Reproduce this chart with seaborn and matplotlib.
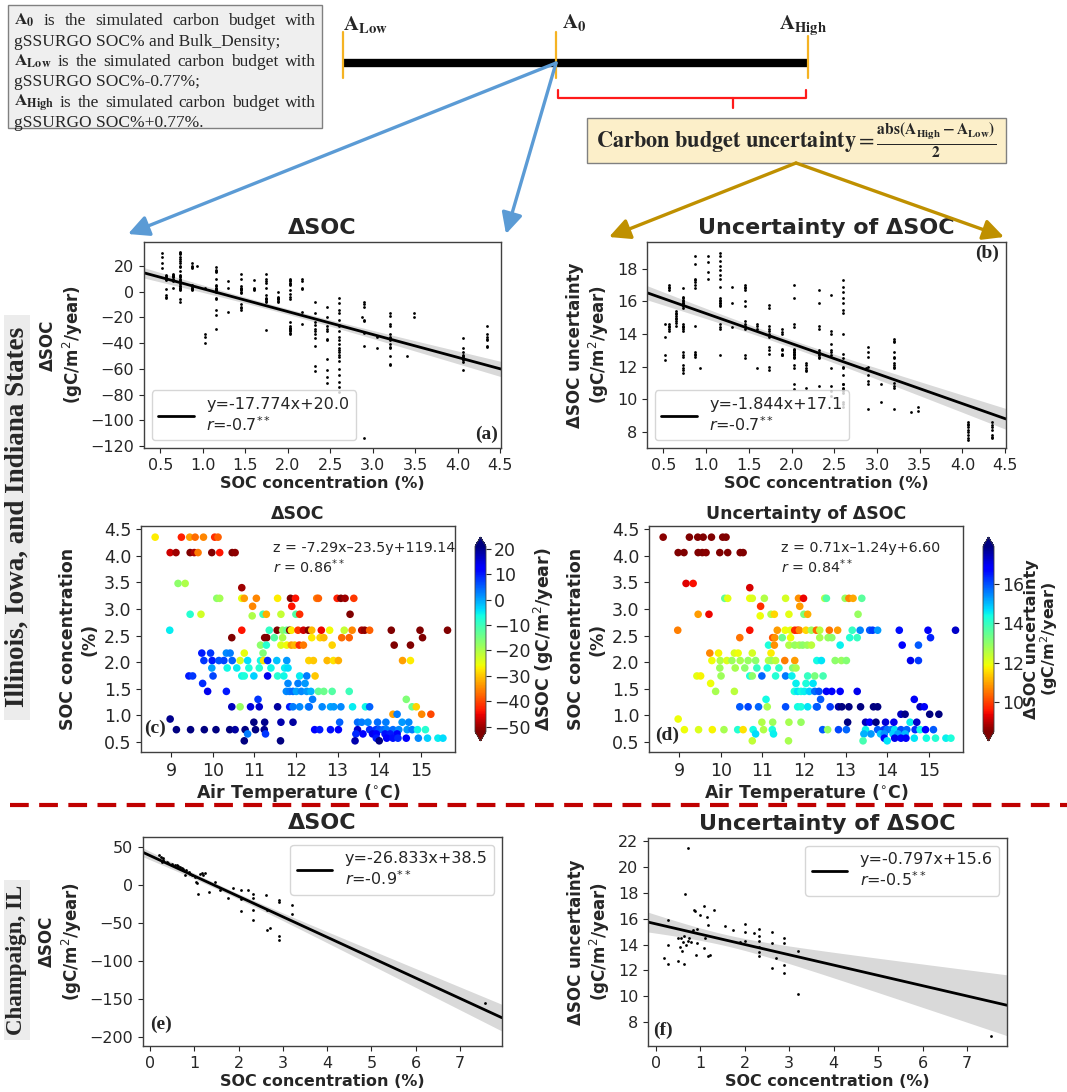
import numpy as np
import pandas as pd
import matplotlib
matplotlib.use("Agg")
import matplotlib.pyplot as plt
import matplotlib.colors as mcolors
import seaborn as sns
from matplotlib.patches import Rectangle
from matplotlib.lines import Line2D

# ---------------- Illinois / Iowa / Indiana sites ----------------
air_temp = [
    8.62, 9.25, 9.45, 9.58, 9.78, 10.05, 10.13,
    8.98, 9.12, 9.46, 9.56, 9.65, 9.98, 10.17, 10.47, 10.54,
    9.17, 9.34,
    10.7,
    10.1, 10.17, 10.7, 10.76, 11.05, 11.56, 11.87, 11.99, 12.5, 12.54, 12.99, 13.08, 13.18, 13.39,
    10.96, 11.9,
    9.46, 9.72, 10.95, 11.21, 11.29, 11.64, 12.0, 12.09, 13.3,
    8.97, 10.7, 11.36, 11.55, 11.68, 11.78, 11.85, 11.89, 12.05, 12.18, 12.3, 12.38, 12.61, 12.81,
    13.16, 13.35, 13.58, 13.65, 13.77, 14.29, 14.98, 15.64,
    10.46, 11.25, 11.3, 11.48, 11.68, 12.38, 12.58, 12.67, 13.1, 13.28, 15.04,
    11.15, 11.29, 11.64, 11.78, 11.89, 11.97, 12.08, 12.18, 12.87, 14.36, 14.75,
    9.74, 9.95, 10.33, 10.42, 10.76, 11.21,
    9.79, 9.99, 10.15, 10.27, 10.47, 10.66, 10.84, 11.15, 11.22, 11.32, 11.54, 11.78, 12.31, 12.42,
    12.75, 12.9, 13.02, 14.56, 14.75,
    9.98, 10.35, 10.58, 10.87, 11.12, 11.4, 11.73, 11.81,
    9.43, 9.52, 10.01, 10.7, 10.76, 10.99, 11.32, 11.56, 11.71, 12.09, 12.26, 12.46,
    9.76, 11.81, 12.05, 12.22,
    9.88, 10.33, 11.77, 11.85, 11.93, 12.01, 12.13, 12.26, 12.36, 12.54, 12.67, 12.87, 13.28,
    11.09, 12.4, 14.65,
    10.46, 10.66, 10.91, 11.12, 11.56, 11.85, 11.93, 12.09, 12.3, 12.32, 12.63, 12.83, 12.91, 13.08,
    13.36, 13.67, 13.77, 14.79, 14.89,
    14.33, 14.43, 15.02, 15.24,
    8.98,
    10.99, 11.25, 11.64, 11.93, 13.05, 13.48, 13.58, 13.73, 13.96, 14.16, 14.55, 14.71,
    9.13, 9.47, 9.8, 10.08, 10.41, 10.54, 10.78, 11.03, 11.24, 12.45, 12.57, 12.83, 13.02, 13.48,
    13.77, 13.92, 14.0, 14.1, 14.18, 14.33, 14.47, 14.67, 14.79, 14.92, 15.11,
    10.84, 11.27, 13.44, 13.61, 13.84, 13.93, 14.14, 14.26, 14.43,
    13.93, 14.18, 14.33, 14.45, 14.65, 14.94, 15.16, 15.41, 15.53,
    10.76, 11.63, 13.42, 14.0,
]
soc_pct = [
    4.35, 4.35, 4.35, 4.35, 4.35, 4.35, 4.35,
    4.06, 4.06, 4.06, 4.06, 4.06, 4.06, 4.06, 4.06, 4.06,
    3.48, 3.48,
    3.40,
    3.20, 3.20, 3.20, 3.20, 3.20, 3.20, 3.20, 3.20, 3.20, 3.20, 3.20, 3.20, 3.20, 3.20,
    3.05, 3.05,
    2.90, 2.90, 2.87, 2.90, 2.90, 2.90, 2.90, 2.90, 2.90,
    2.60, 2.60, 2.60, 2.60, 2.60, 2.60, 2.60, 2.60, 2.60, 2.60, 2.60, 2.60, 2.60, 2.60,
    2.60, 2.60, 2.60, 2.60, 2.60, 2.60, 2.60, 2.60,
    2.46, 2.46, 2.46, 2.46, 2.46, 2.46, 2.46, 2.46, 2.46, 2.46, 2.46,
    2.32, 2.32, 2.32, 2.32, 2.32, 2.32, 2.32, 2.32, 2.32, 2.32, 2.32,
    2.17, 2.17, 2.17, 2.17, 2.17, 2.17,
    2.03, 2.03, 2.03, 2.03, 2.03, 2.03, 2.03, 2.03, 2.03, 2.03, 2.03, 2.03, 2.03, 2.03,
    2.03, 2.03, 2.03, 2.03, 2.03,
    1.89, 1.89, 1.89, 1.89, 1.89, 1.89, 1.89, 1.89,
    1.74, 1.74, 1.74, 1.74, 1.74, 1.74, 1.74, 1.74, 1.74, 1.74, 1.74, 1.74,
    1.60, 1.60, 1.60, 1.60,
    1.45, 1.45, 1.45, 1.45, 1.45, 1.45, 1.45, 1.45, 1.45, 1.45, 1.45, 1.45, 1.45,
    1.30, 1.30, 1.30,
    1.16, 1.16, 1.16, 1.16, 1.16, 1.16, 1.16, 1.16, 1.16, 1.16, 1.16, 1.16, 1.16, 1.16,
    1.16, 1.16, 1.16, 1.16, 1.16,
    1.02, 1.02, 1.02, 1.02,
    0.93,
    0.87, 0.87, 0.87, 0.87, 0.87, 0.87, 0.87, 0.87, 0.87, 0.87, 0.87, 0.87,
    0.73, 0.73, 0.73, 0.73, 0.73, 0.73, 0.73, 0.73, 0.73, 0.73, 0.73, 0.73, 0.73, 0.73,
    0.73, 0.73, 0.73, 0.73, 0.73, 0.73, 0.73, 0.73, 0.73, 0.73, 0.73,
    0.65, 0.65, 0.65, 0.65, 0.65, 0.65, 0.65, 0.65, 0.65,
    0.57, 0.57, 0.57, 0.57, 0.57, 0.57, 0.57, 0.57, 0.57,
    0.52, 0.52, 0.52, 0.52,
]
dsoc = [
    -27, -43, -33, -37, -35, -42, -38,
    -47, -50, -53, -49, -36, -61, -44, -55, -51,
    -17, -20,
    -50,
    -17, -19, -25, -33, -35, -27, -56, -44, -36, -38, -43, -57, -50, -41,
    -35, -44,
    -8, -23, -20, -10, -32, -22, -12, -42, -114,
    -5, -44, -9, -65, -17, -14, -70, -27, -41, -47, -54, -31, -45, -26,
    -22, -35, -49, -51, -38, -74, -78, -60,
    -52, -61, -66, -12, -20, -27, -29, -31, -37, -38, -71,
    -17, -8, -24, -26, -33, -31, -42, -36, -29, -62, -58,
    10, 8, 2, 3, -25, -16,
    8, 10, 6, 7, 5, -24, -4, -6, -28, 9, -2, 1, -29, -30,
    -31, -28, -32, -33, -27,
    0, -6, -5, -7, -8, -6, -5, -4,
    10, 8, 7, -6, -7, -3, 14, -8, -6, -5, 3, -30,
    9, 2, 3, 1,
    14, 10, 2, 3, 4, 0, 2, 1, -1, -13, -14, -12, -10,
    8, 3, -16,
    17, -18, 15, 16, 19, 10, 3, 2, 1, 4, 2, 0, 1, 2,
    -5, -6, 5, -14, -29,
    -33, 3, -35, -40,
    20,
    22, 20, 18, 19, 5, 4, 3, 2, 4, 3, 1, 2,
    22, 27, 31, 29, 25, 19, 30, 24, 20, 12, 10, 11, 13, 16,
    9, 8, 6, 4, 3, 4, 2, 1, 3, -6, -8,
    3, 8, 9, 12, 14, 13, 11, 10, 12,
    10, 12, 11, 9, 13, 2, -3, -5, -4,
    30, 27, 18, 22,
]
dsoc_unc = [
    8.6, 7.6, 8.1, 8.4, 7.8, 7.7, 8.3,
    8.1, 7.6, 8.3, 8.5, 8.6, 7.5, 7.8, 8.0, 8.4,
    9.3, 9.5,
    9.2,
    13.5, 12.0, 11.9, 12.1, 12.6, 12.2, 10.8, 9.4, 12.5, 13.7, 12.9, 10.7, 11.0, 13.6,
    9.8, 10.9,
    10.9, 9.4, 11.9, 12.6, 11.5, 12.0, 13.2, 11.1, 12.9,
    10.6, 9.5, 10.9, 11.9, 12.0, 9.8, 9.7, 10.7, 11.5, 12.8, 10.4, 12.5, 10.5, 10.9,
    14.0, 15.5, 15.9, 16.2, 15.3, 16.6, 16.9, 17.3,
    10.5, 10.2, 10.8, 13.4, 11.9, 12.7, 12.9, 13.0, 14.2, 14.0, 16.4,
    14.3, 10.8, 12.6, 12.9, 12.7, 13.0, 12.8, 12.5, 14.5, 16.7, 15.9,
    10.7, 11.8, 12.1, 11.9, 12.2, 11.7,
    11.9, 12.6, 12.1, 12.8, 12.7, 12.9, 13.0, 12.6, 12.8, 12.5, 10.6, 10.9, 14.4, 14.6,
    13.0, 12.9, 13.1, 17.0, 16.2,
    12.8, 12.7, 13.0, 14.0, 14.3, 14.1, 13.1, 12.7,
    12.0, 11.8, 12.8, 14.3, 13.0, 15.8, 14.2, 15.6, 14.5, 14.0, 13.2, 13.8,
    11.9, 14.5, 14.3, 14.6,
    12.7, 12.5, 14.3, 14.6, 14.4, 14.5, 14.8, 15.7, 16.0, 16.9, 16.7, 16.8, 17.0,
    14.4, 15.9, 16.9,
    15.9, 16.1, 15.8, 12.7, 16.0, 14.4, 14.3, 14.6, 15.7, 15.9, 16.2, 17.6, 18.2, 18.8,
    19.0, 18.5, 17.9, 17.4, 16.9,
    17.4, 17.8, 18.4, 18.8,
    11.9,
    12.6, 12.8, 12.7, 12.9, 18.3, 17.4, 16.8, 18.8, 17.2, 17.0, 14.5, 17.3,
    11.9, 12.1, 11.8, 12.7, 14.2, 11.6, 14.4, 12.6, 14.3, 15.9, 12.9, 16.1, 15.8, 14.5,
    15.9, 16.2, 15.7, 15.6, 14.6, 16.0, 15.8, 16.3, 14.4, 16.8, 15.9,
    14.7, 14.5, 15.1, 15.3, 14.9, 15.4, 14.8, 15.2, 15.0,
    16.8, 17.0, 16.7, 16.9, 14.6, 14.4, 14.2, 14.5, 14.3,
    12.4, 12.7, 13.8, 14.6,
]

# ---------------- Champaign, IL sites ----------------
champ_soc_e = [0.21, 0.25, 0.29, 0.30, 0.26, 0.38, 0.41, 0.49, 0.56, 0.60, 0.64, 0.68, 0.71, 0.75,
               0.81, 0.80, 0.87, 0.90, 0.94, 1.02, 1.04, 1.07, 1.09, 1.13, 1.17, 1.20, 1.24, 1.32,
               1.47, 1.58, 1.75, 1.88, 2.05, 2.05, 2.05, 2.22, 2.33, 2.33, 2.33, 2.33, 2.62, 2.63,
               2.63, 2.71, 2.92, 2.92, 2.92, 2.92, 3.21, 3.21, 7.56]
champ_dsoc = [39.0, 36.8, 36.0, 33.3, 30.3, 30.3, 28.9, 28.1, 26.8, 25.9, 25.0, 23.7, 22.8, 21.5,
              19.3, 12.7, 17.1, 14.9, 13.6, 10.5, 3.9, 3.1, -11.4, 14.9, 15.8, 12.7, 15.8, -9.2,
              3.9, -7.0, -16.7, -3.5, -7.0, -18.0, -34.2, -7.0, -11.4, -16.7, -33.3, -46.5, -13.6,
              -33.3, -58.8, -56.1, -20.2, -22.4, -67.5, -72.8, -26.8, -37.7, -156.0]
champ_soc_f = [0.19, 0.28, 0.28, 0.28, 0.50, 0.50, 0.54, 0.56, 0.58, 0.60, 0.62, 0.63, 0.68, 0.71,
               0.65, 0.73, 0.75, 0.78, 0.83, 0.86, 0.88, 0.89, 0.92, 0.93, 0.99, 1.07, 1.08, 1.10,
               1.14, 1.16, 1.16, 1.22, 1.31, 1.56, 1.74, 1.89, 2.01, 2.01, 2.01, 2.21, 2.31, 2.31,
               2.31, 2.31, 2.31, 2.31, 2.61, 2.61, 2.61, 2.70, 2.89, 2.89, 2.89, 2.89, 3.19, 3.19,
               7.54]
champ_unc = [13.0, 15.9, 14.0, 12.5, 14.5, 12.7, 13.8, 14.5, 13.5, 14.2, 12.5, 14.7, 14.0, 21.5,
             17.9, 14.3, 14.5, 14.2, 15.1, 16.7, 16.6, 13.2, 14.1, 15.2, 16.3, 17.0, 13.7, 14.5,
             16.1, 15.5, 13.1, 13.2, 16.7, 15.4, 15.1, 14.2, 15.6, 15.0, 14.3, 14.9, 15.2, 14.7,
             14.3, 13.8, 13.4, 13.1, 15.0, 14.1, 12.2, 13.0, 14.5, 14.1, 12.4, 11.8, 13.5, 10.2,
             6.9]

# regression results (slope, intercept, r)
fit_a = (-17.774, 20.0, -0.7)
fit_b = (-1.844, 17.1, -0.7)
fit_e = (-26.833, 38.5, -0.9)
fit_f = (-0.797, 15.6, -0.5)
plane_c = "z = -7.29x\u201323.5y+119.14\n$r$ = 0.86$^{**}$"
plane_d = "z = 0.71x\u20131.24y+6.60\n$r$ = 0.84$^{**}$"

sites = pd.DataFrame({"temp": air_temp, "soc": soc_pct, "dsoc": dsoc, "unc": dsoc_unc})
champ_e = pd.DataFrame({"soc": champ_soc_e, "dsoc": champ_dsoc})
champ_f = pd.DataFrame({"soc": champ_soc_f, "unc": champ_unc})

# ---------------- style ----------------
sns.set_style("ticks")
plt.rcParams["font.family"] = ["DejaVu Sans"]
plt.rcParams["mathtext.fontset"] = "dejavusans"
plt.rcParams["axes.edgecolor"] = "0.25"
plt.rcParams["axes.linewidth"] = 1.0
plt.rcParams["xtick.color"] = "0.15"
plt.rcParams["ytick.color"] = "0.15"
plt.rcParams["axes.unicode_minus"] = True

W, H = 1067, 1092
fig = plt.figure(figsize=(W / 100, H / 100), dpi=100)


def px_axes(x0, y0, x1, y1):
    return fig.add_axes([x0 / W, 1 - y1 / H, (x1 - x0) / W, (y1 - y0) / H])


def ci_half(x, y, slope, intercept, xg):
    x = np.asarray(x, float)
    y = np.asarray(y, float)
    n = len(x)
    resid = y - (slope * x + intercept)
    s = np.sqrt(np.sum(resid ** 2) / (n - 2))
    xbar = x.mean()
    sxx = np.sum((x - xbar) ** 2)
    return 1.96 * s * np.sqrt(1.0 / n + (xg - xbar) ** 2 / sxx)


SERIF = "Liberation Serif"
ylab_unit = "(gC/m$^2$/year)"


def reg_panel(ax, df, xcol, ycol, fit, xlim, ylim, legend_loc, dot=4, tick_fs=11.5):
    slope, intercept, r = fit
    sns.scatterplot(data=df, x=xcol, y=ycol, ax=ax, s=dot, color="black", linewidth=0)
    xg = np.linspace(xlim[0], xlim[1], 300)
    yg = slope * xg + intercept
    half = ci_half(df[xcol], df[ycol], slope, intercept, xg)
    ax.fill_between(xg, yg - half, yg + half, color="black", alpha=0.15, lw=0)
    sns.lineplot(x=xg, y=yg, ax=ax, color="black", lw=2, errorbar=None)
    ax.set_xlim(*xlim)
    ax.set_ylim(*ylim)
    label = f"y={slope:.3f}x+{intercept:.1f}\n$r$={r}$^{{**}}$"
    ax.legend(handles=[Line2D([0], [0], color="black", lw=2)], labels=[label],
              loc=legend_loc, fontsize=11.5, handlelength=2.2, borderpad=0.4,
              labelspacing=0.2)
    ax.tick_params(labelsize=tick_fs, length=3.5)


# ---- (a) delta SOC vs SOC ----
ax_a = px_axes(144, 242, 501, 448)
reg_panel(ax_a, sites, "soc", "dsoc", fit_a, (0.307, 4.51), (-121.5, 38.5), "lower left")
ax_a.set_xticks(np.arange(0.5, 4.51, 0.5))
ax_a.set_yticks(np.arange(-120, 21, 20))
ax_a.set_title("\u0394SOC", fontsize=16, fontweight="bold")
ax_a.set_xlabel("SOC concentration (%)", fontsize=11.5, fontweight="bold", labelpad=2)
ax_a.set_ylabel("\u0394SOC\n" + ylab_unit, fontsize=12, fontweight="bold")
ax_a.text(0.96, 0.068, "(a)", transform=ax_a.transAxes, ha="center", va="center",
          family=SERIF, fontweight="bold", fontsize=14)

# ---- (b) uncertainty vs SOC ----
ax_b = px_axes(647, 242, 1006, 448)
reg_panel(ax_b, sites, "soc", "unc", fit_b, (0.307, 4.51), (7.0, 19.65), "lower left")
ax_b.set_xticks(np.arange(0.5, 4.51, 0.5))
ax_b.set_yticks(np.arange(8, 19, 2))
ax_b.set_title("Uncertainty of \u0394SOC", fontsize=16, fontweight="bold")
ax_b.set_xlabel("SOC concentration (%)", fontsize=11.5, fontweight="bold", labelpad=2)
ax_b.set_ylabel("\u0394SOC uncertainty\n" + ylab_unit, fontsize=12, fontweight="bold")
ax_b.text(0.947, 0.947, "(b)", transform=ax_b.transAxes, ha="center", va="center",
          family=SERIF, fontweight="bold", fontsize=14)


# ---- (c), (d) SOC vs air temperature coloured by delta SOC / uncertainty ----
def map_panel(ax, cax, hue, norm, ticks, title, cbar_label, note, tag, tag_xy, cbar_fs, cbar_pad):
    sns.scatterplot(data=sites, x="temp", y="soc", hue=hue, palette="jet_r", hue_norm=norm,
                    s=30, linewidth=0, legend=False, ax=ax)
    ax.set_xlim(8.28, 15.82)
    ax.set_ylim(0.31, 4.56)
    ax.set_xticks(range(9, 16))
    ax.set_yticks(np.arange(0.5, 4.51, 0.5))
    ax.tick_params(labelsize=12.5, length=3.5)
    ax.set_title(title, fontsize=12.5, fontweight="bold", pad=5)
    ax.set_xlabel("Air Temperature ($^{\\circ}$C)", fontsize=12.5, fontweight="bold", labelpad=2)
    ax.set_ylabel("SOC concentration\n(%)", fontsize=12.5, fontweight="bold")
    ax.text(0.42, 0.855, note, transform=ax.transAxes, fontsize=10.3, va="center", ha="left",
            linespacing=1.15)
    ax.text(tag_xy[0], tag_xy[1], tag, transform=ax.transAxes, ha="center", va="center",
            family=SERIF, fontweight="bold", fontsize=14)
    sm = plt.cm.ScalarMappable(norm=norm, cmap="jet_r")
    cb = fig.colorbar(sm, cax=cax, extend="both")
    cb.set_ticks(ticks)
    cb.ax.tick_params(labelsize=12.5, length=3.5, pad=2)
    cb.outline.set_linewidth(0.6)
    cb.set_label(cbar_label, fontsize=cbar_fs, fontweight="bold", labelpad=cbar_pad,
                 linespacing=1.0)


ax_c = px_axes(141, 526, 455, 752)
cax_c = px_axes(475, 537, 486, 741)
map_panel(ax_c, cax_c, "dsoc", mcolors.Normalize(-52, 21), range(-50, 21, 10), "\u0394SOC",
          "\u0394SOC " + ylab_unit, plane_c, "(c)", (0.045, 0.105), 12.5, 1)

ax_d = px_axes(649, 526, 963, 752)
cax_d = px_axes(983, 537, 994, 741)
map_panel(ax_d, cax_d, "unc", mcolors.Normalize(8.5, 17.9), [10, 12, 14, 16],
          "Uncertainty of \u0394SOC", "\u0394SOC uncertainty\n" + ylab_unit, plane_d, "(d)",
          (0.058, 0.072), 11.5, 0)

# ---- (e), (f) Champaign ----
ax_e = px_axes(143, 837, 502, 1046)
reg_panel(ax_e, champ_e, "soc", "dsoc", fit_e, (-0.16, 7.95), (-212, 63), "upper right", dot=4)
ax_e.set_xticks(range(0, 8))
ax_e.set_yticks(range(-200, 51, 50))
ax_e.set_title("\u0394SOC", fontsize=16, fontweight="bold")
ax_e.set_xlabel("SOC concentration (%)", fontsize=11.5, fontweight="bold", labelpad=2)
ax_e.set_ylabel("\u0394SOC\n" + ylab_unit, fontsize=12, fontweight="bold")
ax_e.text(0.05, 0.105, "(e)", transform=ax_e.transAxes, ha="center", va="center",
          family=SERIF, fontweight="bold", fontsize=14)

ax_f = px_axes(648, 838, 1007, 1046)
reg_panel(ax_f, champ_f, "soc", "unc", fit_f, (-0.18, 7.9), (6.15, 22.25), "upper right", dot=4)
ax_f.set_xticks(range(0, 8))
ax_f.set_yticks(range(8, 23, 2))
ax_f.set_title("Uncertainty of \u0394SOC", fontsize=16, fontweight="bold")
ax_f.set_xlabel("SOC concentration (%)", fontsize=11.5, fontweight="bold", labelpad=2)
ax_f.set_ylabel("\u0394SOC uncertainty\n" + ylab_unit, fontsize=12, fontweight="bold")
ax_f.text(0.042, 0.077, "(f)", transform=ax_f.transAxes, ha="center", va="center",
          family=SERIF, fontweight="bold", fontsize=14)

# ---------------- schematic overlay (pixel coordinates) ----------------
ov = fig.add_axes([0, 0, 1, 1], zorder=5)
ov.set_xlim(0, W)
ov.set_ylim(H, 0)
ov.axis("off")
renderer = fig.canvas.get_renderer()

# definition box
ov.add_patch(Rectangle((8, 5), 314, 123, facecolor="#efefef", edgecolor="#808080", lw=1.0))
note_kw = dict(fontsize=12.5, family=SERIF, math_fontfamily="stix", va="baseline", ha="left")


def justified(words, x0, x1, y):
    texts = [ov.text(x0, y, w, **note_kw) for w in words]
    widths = [t.get_window_extent(renderer).width for t in texts]
    gap = (x1 - x0 - sum(widths)) / (len(words) - 1)
    x = x0
    for t, w in zip(texts, widths):
        t.set_x(x)
        x += w + gap


body = ["is", "the", "simulated", "carbon", "budget", "with"]
justified([r"$\mathbf{A_0}$"] + body, 14, 316, 25)
ov.text(14, 45.5, "gSSURGO SOC% and Bulk_Density;", **note_kw)
justified([r"$\mathbf{A_{Low}}$"] + body, 14, 316, 66)
ov.text(14, 86.5, "gSSURGO SOC%-0.77%;", **note_kw)
justified([r"$\mathbf{A_{High}}$"] + body, 14, 316, 107)
ov.text(14, 127, "gSSURGO SOC%+0.77%.", **note_kw)

# budget bar with the three markers
ov.plot([343, 808], [63, 63], color="black", lw=6, solid_capstyle="butt")
for xm, ytop in [(343, 32), (556, 32), (808, 36)]:
    ov.plot([xm, xm], [ytop, 78], color="#f5b323", lw=1.6)
lab_kw = dict(fontsize=15, family=SERIF, math_fontfamily="stix", va="baseline", ha="left")
ov.text(343, 30, r"$\mathbf{A_{Low}}$", **lab_kw)
ov.text(562, 28, r"$\mathbf{A_0}$", **lab_kw)
ov.text(779, 30, r"$\mathbf{A_{High}}$", **lab_kw)

# brace between A0 and AHigh
ov.plot([558, 558, 806, 806], [90, 98, 98, 90], color="#ff1a1a", lw=1.6)
ov.plot([733, 733], [98, 108], color="#ff1a1a", lw=1.6)

# uncertainty formula box
ov.add_patch(Rectangle((587, 118), 419, 45, facecolor="#fcefc9", edgecolor="#808080", lw=1.0))
ov.text(796, 141, r"$\mathbf{Carbon\ budget\ uncertainty} = "
        r"\frac{\mathbf{abs(A_{High} - A_{Low})}}{\mathbf{2}}$",
        fontsize=16, math_fontfamily="stix", ha="center", va="center")

# arrows to the panels
blue = "#5b9bd5"
gold = "#bf9000"
for tip in [(128, 234), (506, 234)]:
    ov.annotate("", xy=tip, xytext=(556, 63),
                arrowprops=dict(arrowstyle="-|>,head_length=0.9,head_width=0.45", color=blue,
                                lw=2.4, shrinkA=0, shrinkB=0, mutation_scale=14))
for tip in [(609, 237), (1004, 237)]:
    ov.annotate("", xy=tip, xytext=(796, 163),
                arrowprops=dict(arrowstyle="-|>,head_length=0.9,head_width=0.45", color=gold,
                                lw=2.4, shrinkA=0, shrinkB=0, mutation_scale=14))

# region labels
ov.add_patch(Rectangle((4, 315), 26, 405, facecolor="#ececec", edgecolor="none"))
ov.text(17, 517, "Illinois, Iowa, and Indiana States", rotation=90, ha="center", va="center",
        family=SERIF, fontweight="bold", fontsize=19.5)
ov.add_patch(Rectangle((4, 880), 26, 160, facecolor="#ececec", edgecolor="none"))
ov.text(17, 960, "Champaign, IL", rotation=90, ha="center", va="center",
        family=SERIF, fontweight="bold", fontsize=16.5)

# divider between the two study regions
ov.plot([10, W], [805, 805], color="#c00000", lw=3, dashes=(4.5, 2.5))

fig.savefig("out.png", dpi=100)
